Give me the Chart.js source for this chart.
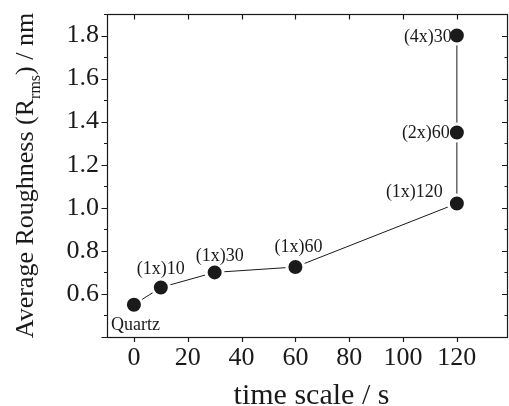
<!DOCTYPE html>
<html><head><meta charset="utf-8">
<script src="https://cdn.jsdelivr.net/npm/chart.js@4/dist/chart.umd.min.js"></script>
<style>html,body{margin:0;padding:0;background:#fff}#wrap{width:509px;height:406px}</style>
</head><body><div id="wrap"><canvas id="c" width="509" height="406"></canvas></div>
<script>
// ---- data ----
const timeScale = [0, 10, 30, 60, 120, 120, 120];
const roughness = [0.55, 0.63, 0.70, 0.725, 1.02, 1.35, 1.80];
const pointLabels = ['Quartz', '(1x)10', '(1x)30', '(1x)60', '(1x)120', '(2x)60', '(4x)30'];
const xTickValues = [0, 20, 40, 60, 80, 100, 120];
const yTickLabels = ['0.6', '0.8', '1.0', '1.2', '1.4', '1.6', '1.8'];
const yMajorTicks = [0.4, 0.6, 0.8, 1.0, 1.2, 1.4, 1.6, 1.8];
const yMinorTicks = [0.5, 0.7, 0.9, 1.1, 1.3, 1.5, 1.7, 1.9];
const xTitle = 'time scale / s';
const yTitleParts = ['Average Roughness (R', 'rms', ') / nm'];

const FONT = "'Liberation Serif', 'Times New Roman', serif";
const INK = '#1a1a1a';

// label placement styles (alignment, offsets from marker)
const labelPlacement = [
  {align: 'center', dx: 1.5, dy: 25.5},
  {align: 'center', dx: 0, dy: -13.5},
  {align: 'center', dx: 5, dy: -11},
  {align: 'center', dx: 3, dy: -15},
  {align: 'right', dx: -14, dy: -6},
  {align: 'right', dx: -7, dy: 6},
  {align: 'right', dx: -5, dy: 6.5}
];

const framePlugin = {
  id: 'frame',
  afterDraw(chart) {
    const ctx = chart.ctx, ca = chart.chartArea;
    const xs = chart.scales.x, ys = chart.scales.y;
    ctx.save();
    ctx.strokeStyle = INK;
    ctx.lineWidth = 1.2;
    ctx.strokeRect(ca.left + 0.5, ca.top + 0.5, ca.right - ca.left - 1, ca.bottom - ca.top);
    ctx.beginPath();
    yMajorTicks.forEach(v => {
      const p = Math.round(ys.getPixelForValue(v)) + 0.5;
      ctx.moveTo(ca.left - 5.5, p); ctx.lineTo(ca.left + 0.5, p);
      ctx.moveTo(ca.right - 0.5, p); ctx.lineTo(ca.right - 6, p);
    });
    yMinorTicks.forEach(v => {
      const p = Math.round(ys.getPixelForValue(v)) + 0.5;
      ctx.moveTo(ca.left - 3, p); ctx.lineTo(ca.left + 0.5, p);
      ctx.moveTo(ca.right - 0.5, p); ctx.lineTo(ca.right - 3.5, p);
    });
    xTickValues.forEach(v => {
      const p = Math.round(xs.getPixelForValue(v)) + 0.5;
      ctx.moveTo(p, ca.bottom); ctx.lineTo(p, ca.bottom + 5);
      ctx.moveTo(p, ca.top + 0.5); ctx.lineTo(p, ca.top + 5.5);
    });
    ctx.stroke();

    // axis titles
    ctx.fillStyle = INK;
    ctx.font = '30px ' + FONT;
    ctx.textAlign = 'center';
    ctx.textBaseline = 'alphabetic';
    ctx.fillText(xTitle, (ca.left + ca.right) / 2 + 4, 404);

    const mainF = '26px ' + FONT, subF = '16px ' + FONT;
    ctx.font = mainF; const w0 = ctx.measureText(yTitleParts[0]).width;
    const w2 = ctx.measureText(yTitleParts[2]).width;
    ctx.font = subF; const w1 = ctx.measureText(yTitleParts[1]).width;
    const total = w0 + w1 + w2;
    ctx.translate(33, (ca.top + ca.bottom) / 2);
    ctx.rotate(-Math.PI / 2);
    ctx.textAlign = 'left';
    let x = -total / 2;
    ctx.font = mainF; ctx.fillText(yTitleParts[0], x, 0); x += w0;
    ctx.font = subF; ctx.fillText(yTitleParts[1], x, 7); x += w1;
    ctx.font = mainF; ctx.fillText(yTitleParts[2], x, 0);
    ctx.restore();

    // point labels
    const meta = chart.getDatasetMeta(0);
    ctx.save();
    ctx.fillStyle = INK;
    ctx.font = '18px ' + FONT;
    ctx.textBaseline = 'alphabetic';
    meta.data.forEach((pt, i) => {
      const lp = labelPlacement[i];
      ctx.textAlign = lp.align;
      ctx.fillText(pointLabels[i], pt.x + lp.dx, pt.y + lp.dy);
    });
    ctx.restore();
  }
};

new Chart(document.getElementById('c'), {
  type: 'scatter',
  data: {
    datasets: [{
      data: timeScale.map((t, i) => ({x: t, y: roughness[i]})),
      showLine: true,
      borderColor: INK,
      borderWidth: 1,
      pointRadius: 8.5,
      pointHoverRadius: 8.5,
      pointBackgroundColor: INK,
      pointBorderColor: '#fff',
      pointBorderWidth: 3,
      clip: false
    }]
  },
  options: {
    responsive: false,
    animation: false,
    devicePixelRatio: 1,
    layout: {autoPadding: false, padding: {top: 14, right: 1, left: 0, bottom: 0}},
    plugins: {legend: {display: false}, tooltip: {enabled: false}},
    scales: {
      x: {
        type: 'linear', min: -10, max: 139,
        afterBuildTicks(s) { s.ticks = xTickValues.map(v => ({value: v})); },
        afterFit(s) { s.height = 69; s.paddingLeft = 0; s.paddingRight = 0; },
        grid: {display: true, drawOnChartArea: false, drawTicks: false},
        border: {display: false},
        ticks: {
          padding: 6, color: INK, maxRotation: 0, autoSkip: false,
          font: {family: FONT, size: 26},
          callback: v => String(v)
        }
      },
      y: {
        min: 0.4, max: 1.9,
        afterBuildTicks(s) { s.ticks = yTickLabels.map(t => ({value: parseFloat(t)})); },
        afterFit(s) { s.width = 107; s.paddingTop = 0; s.paddingBottom = 0; },
        grid: {display: true, drawOnChartArea: false, drawTicks: false},
        border: {display: false},
        ticks: {
          padding: 8, color: INK, autoSkip: false,
          font: {family: FONT, size: 26},
          callback: v => Number(v).toFixed(1)
        }
      }
    }
  },
  plugins: [framePlugin]
});
</script>
</body></html>
